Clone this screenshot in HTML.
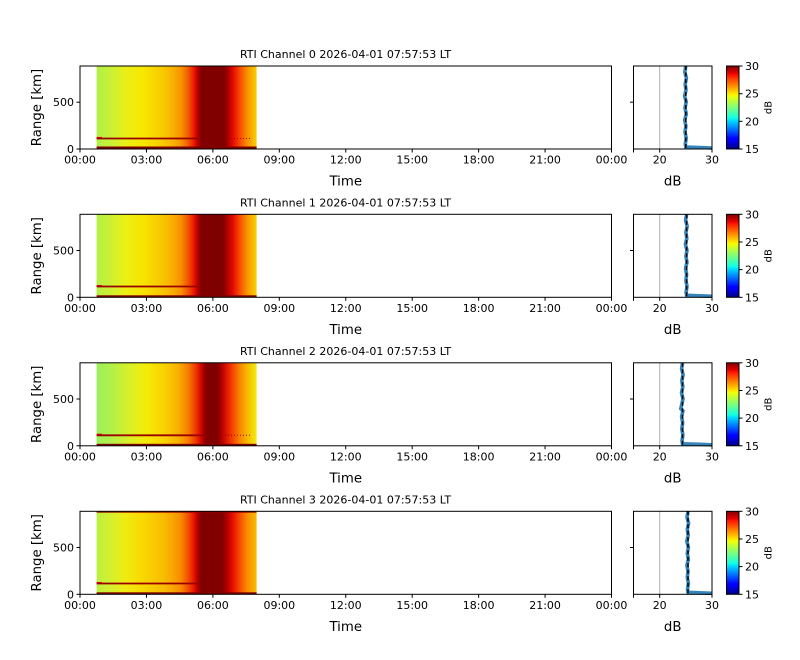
<!DOCTYPE html>
<html><head><meta charset="utf-8"><style>
html,body{margin:0;padding:0;background:#fff;}
svg{display:block;font-family:"DejaVu Sans","Liberation Sans",sans-serif;}
</style></head><body>
<svg width="800" height="660" viewBox="0 0 800 660" xmlns="http://www.w3.org/2000/svg">
<defs>
<linearGradient id="jet" x1="0" y1="1" x2="0" y2="0">
<stop offset="0" stop-color="#000080"/><stop offset="0.11" stop-color="#0000ff"/><stop offset="0.125" stop-color="#0000ff"/>
<stop offset="0.34" stop-color="#00dbff"/><stop offset="0.375" stop-color="#14ffe3"/><stop offset="0.64" stop-color="#f0ff08"/>
<stop offset="0.66" stop-color="#ffed00"/><stop offset="0.89" stop-color="#ff1300"/><stop offset="0.91" stop-color="#e80000"/>
<stop offset="1" stop-color="#800000"/>
</linearGradient>
<linearGradient id="h0" x1="0" y1="0" x2="1" y2="0">
<stop offset="0" stop-color="#b0f048"/><stop offset="0.084" stop-color="#c8f038"/><stop offset="0.18" stop-color="#e8f018"/>
<stop offset="0.29" stop-color="#f8e800"/><stop offset="0.42" stop-color="#f8c800"/><stop offset="0.48" stop-color="#f8b000"/>
<stop offset="0.53" stop-color="#f89000"/><stop offset="0.57" stop-color="#f06000"/><stop offset="0.60" stop-color="#f02800"/>
<stop offset="0.625" stop-color="#d00000"/><stop offset="0.645" stop-color="#900000"/><stop offset="0.66" stop-color="#800000"/>
<stop offset="0.80" stop-color="#800000"/><stop offset="0.82" stop-color="#a80000"/><stop offset="0.85" stop-color="#e00800"/>
<stop offset="0.89" stop-color="#f84000"/><stop offset="0.94" stop-color="#f89000"/><stop offset="1" stop-color="#f8d000"/>
</linearGradient>
<linearGradient id="h1" x1="0" y1="0" x2="1" y2="0">
<stop offset="0" stop-color="#b4f044"/><stop offset="0.084" stop-color="#ccf034"/><stop offset="0.18" stop-color="#ecf014"/>
<stop offset="0.29" stop-color="#f8e400"/><stop offset="0.42" stop-color="#f8c400"/><stop offset="0.48" stop-color="#f8ac00"/>
<stop offset="0.53" stop-color="#f88c00"/><stop offset="0.57" stop-color="#f05800"/><stop offset="0.60" stop-color="#f02400"/>
<stop offset="0.625" stop-color="#cc0000"/><stop offset="0.645" stop-color="#8c0000"/><stop offset="0.66" stop-color="#800000"/>
<stop offset="0.79" stop-color="#800000"/><stop offset="0.815" stop-color="#ac0000"/><stop offset="0.85" stop-color="#e00800"/>
<stop offset="0.89" stop-color="#f84400"/><stop offset="0.94" stop-color="#f89400"/><stop offset="1" stop-color="#f8d000"/>
</linearGradient>
<linearGradient id="h2" x1="0" y1="0" x2="1" y2="0">
<stop offset="0" stop-color="#9cf05c"/><stop offset="0.10" stop-color="#b4f048"/><stop offset="0.20" stop-color="#d8f028"/>
<stop offset="0.31" stop-color="#f4ec08"/><stop offset="0.43" stop-color="#f8d000"/><stop offset="0.51" stop-color="#f8b000"/>
<stop offset="0.57" stop-color="#f88000"/><stop offset="0.615" stop-color="#f04000"/><stop offset="0.65" stop-color="#d80800"/>
<stop offset="0.675" stop-color="#980000"/><stop offset="0.69" stop-color="#800000"/><stop offset="0.755" stop-color="#800000"/>
<stop offset="0.785" stop-color="#b80000"/><stop offset="0.83" stop-color="#f02800"/><stop offset="0.89" stop-color="#f88000"/>
<stop offset="0.95" stop-color="#f8c000"/><stop offset="1" stop-color="#f0ec10"/>
</linearGradient>
<linearGradient id="h3" x1="0" y1="0" x2="1" y2="0">
<stop offset="0" stop-color="#bcf040"/><stop offset="0.084" stop-color="#d4f030"/><stop offset="0.18" stop-color="#f0ec10"/>
<stop offset="0.29" stop-color="#f8d800"/><stop offset="0.42" stop-color="#f8bc00"/><stop offset="0.48" stop-color="#f8a400"/>
<stop offset="0.53" stop-color="#f88800"/><stop offset="0.57" stop-color="#f05400"/><stop offset="0.60" stop-color="#f02000"/>
<stop offset="0.625" stop-color="#c80000"/><stop offset="0.645" stop-color="#8c0000"/><stop offset="0.66" stop-color="#800000"/>
<stop offset="0.785" stop-color="#800000"/><stop offset="0.81" stop-color="#a80000"/><stop offset="0.845" stop-color="#e00800"/>
<stop offset="0.89" stop-color="#f84400"/><stop offset="0.94" stop-color="#f88c00"/><stop offset="1" stop-color="#f8bc00"/>
</linearGradient>
</defs>

<!-- ============ PANEL 0 ============ -->
<g transform="translate(0,66)">
<text x="345.5" y="-8" font-size="11" text-anchor="middle">RTI Channel 0 2026-04-01 07:57:53 LT</text>
<rect x="96.6" y="0" width="160" height="83" fill="url(#h0)"/>
<line x1="96.6" y1="72.5" x2="200" y2="72.5" stroke="#9a0000" stroke-width="1.8"/>
<line x1="96.6" y1="71.4" x2="102" y2="71.4" stroke="#e00000" stroke-width="1"/>
<line x1="225" y1="72.5" x2="250" y2="72.5" stroke="#a00000" stroke-width="1" stroke-dasharray="1,2"/>
<rect x="96.6" y="80.5" width="160" height="2.5" fill="#800000"/>
<rect x="80" y="0" width="531.5" height="83" fill="none" stroke="#000" stroke-width="1"/>
<g stroke="#000" stroke-width="1">
<line x1="80" y1="83" x2="80" y2="86.5"/><line x1="146.44" y1="83" x2="146.44" y2="86.5"/><line x1="212.88" y1="83" x2="212.88" y2="86.5"/><line x1="279.31" y1="83" x2="279.31" y2="86.5"/><line x1="345.75" y1="83" x2="345.75" y2="86.5"/><line x1="412.19" y1="83" x2="412.19" y2="86.5"/><line x1="478.63" y1="83" x2="478.63" y2="86.5"/><line x1="545.06" y1="83" x2="545.06" y2="86.5"/><line x1="611.5" y1="83" x2="611.5" y2="86.5"/>
<line x1="76.5" y1="83" x2="80" y2="83"/><line x1="76.5" y1="36.2" x2="80" y2="36.2"/>
</g>
<g font-size="11" text-anchor="middle">
<text x="80" y="97.5">00:00</text><text x="146.44" y="97.5">03:00</text><text x="212.88" y="97.5">06:00</text><text x="279.31" y="97.5">09:00</text><text x="345.75" y="97.5">12:00</text><text x="412.19" y="97.5">15:00</text><text x="478.63" y="97.5">18:00</text><text x="545.06" y="97.5">21:00</text><text x="611.5" y="97.5">00:00</text>
</g>
<g font-size="11" text-anchor="end"><text x="74" y="87">0</text><text x="74" y="40.2">500</text></g>
<text x="345.75" y="119.5" font-size="13.3" text-anchor="middle">Time</text>
<text transform="translate(41,41.5) rotate(-90)" font-size="13.3" text-anchor="middle">Range [km]</text>
<line x1="659.7" y1="0" x2="659.7" y2="83" stroke="#b0b0b0" stroke-width="1"/>
<polyline points="685.8,0 684.8,6 686.4,12 685.2,18 686,24 684.6,30 686.2,36 685,42 686.3,48 684.7,54 685.9,60 685,66 686.2,72 685.3,78 685.8,81 700,81.5 712,82" fill="none" stroke="#1f77b4" stroke-width="3.6" opacity="0.9"/>
<line x1="685.8" y1="0" x2="685.8" y2="83" stroke="#000" stroke-width="1.5" stroke-dasharray="4,2.5"/>
<rect x="633.5" y="0" width="78.5" height="83" fill="none" stroke="#000" stroke-width="1"/>
<g stroke="#000" stroke-width="1"><line x1="630" y1="36.2" x2="633.5" y2="36.2"/><line x1="659.7" y1="83" x2="659.7" y2="86.5"/><line x1="712" y1="83" x2="712" y2="86.5"/><line x1="633.5" y1="83" x2="633.5" y2="86.5"/></g>
<g font-size="11" text-anchor="middle"><text x="659.7" y="97.5">20</text><text x="712" y="97.5">30</text></g>
<text x="672.7" y="119.5" font-size="13.3" text-anchor="middle">dB</text>
<rect x="726.5" y="0" width="12.5" height="83" fill="url(#jet)" stroke="#000" stroke-width="1"/>
<g stroke="#000" stroke-width="1"><line x1="739" y1="0" x2="742.5" y2="0"/><line x1="739" y1="27.7" x2="742.5" y2="27.7"/><line x1="739" y1="55.3" x2="742.5" y2="55.3"/><line x1="739" y1="83" x2="742.5" y2="83"/></g>
<g font-size="11"><text x="745" y="4">30</text><text x="745" y="31.7">25</text><text x="745" y="59.3">20</text><text x="745" y="87">15</text></g>
<text transform="translate(771.5,41.5) rotate(-90)" font-size="10" text-anchor="middle">dB</text>
</g>

<!-- ============ PANEL 1 ============ -->
<g transform="translate(0,214.3)">
<text x="345.5" y="-8" font-size="11" text-anchor="middle">RTI Channel 1 2026-04-01 07:57:53 LT</text>
<rect x="96.6" y="0" width="160" height="83" fill="url(#h1)"/>
<line x1="96.6" y1="72.2" x2="200" y2="72.2" stroke="#9a0000" stroke-width="1.8"/>
<line x1="96.6" y1="71.2" x2="102" y2="71.2" stroke="#e00000" stroke-width="1"/>
<rect x="96.6" y="81" width="160" height="2" fill="#800000"/>
<rect x="80" y="0" width="531.5" height="83" fill="none" stroke="#000" stroke-width="1"/>
<g stroke="#000" stroke-width="1">
<line x1="80" y1="83" x2="80" y2="86.5"/><line x1="146.44" y1="83" x2="146.44" y2="86.5"/><line x1="212.88" y1="83" x2="212.88" y2="86.5"/><line x1="279.31" y1="83" x2="279.31" y2="86.5"/><line x1="345.75" y1="83" x2="345.75" y2="86.5"/><line x1="412.19" y1="83" x2="412.19" y2="86.5"/><line x1="478.63" y1="83" x2="478.63" y2="86.5"/><line x1="545.06" y1="83" x2="545.06" y2="86.5"/><line x1="611.5" y1="83" x2="611.5" y2="86.5"/>
<line x1="76.5" y1="83" x2="80" y2="83"/><line x1="76.5" y1="36.2" x2="80" y2="36.2"/>
</g>
<g font-size="11" text-anchor="middle">
<text x="80" y="97.5">00:00</text><text x="146.44" y="97.5">03:00</text><text x="212.88" y="97.5">06:00</text><text x="279.31" y="97.5">09:00</text><text x="345.75" y="97.5">12:00</text><text x="412.19" y="97.5">15:00</text><text x="478.63" y="97.5">18:00</text><text x="545.06" y="97.5">21:00</text><text x="611.5" y="97.5">00:00</text>
</g>
<g font-size="11" text-anchor="end"><text x="74" y="87">0</text><text x="74" y="40.2">500</text></g>
<text x="345.75" y="119.5" font-size="13.3" text-anchor="middle">Time</text>
<text transform="translate(41,41.5) rotate(-90)" font-size="13.3" text-anchor="middle">Range [km]</text>
<line x1="659.7" y1="0" x2="659.7" y2="83" stroke="#b0b0b0" stroke-width="1"/>
<polyline points="686.6,0 685.6,6 687.2,12 685.9,18 686.8,24 685.4,30 687,36 685.9,42 687,48 685.5,54 686.6,60 685.9,66 687,72 686.1,78 686.6,81 700,81.5 712,82" fill="none" stroke="#1f77b4" stroke-width="3.6" opacity="0.9"/>
<line x1="686.6" y1="0" x2="686.6" y2="83" stroke="#000" stroke-width="1.5" stroke-dasharray="4,2.5"/>
<rect x="633.5" y="0" width="78.5" height="83" fill="none" stroke="#000" stroke-width="1"/>
<g stroke="#000" stroke-width="1"><line x1="630" y1="36.2" x2="633.5" y2="36.2"/><line x1="659.7" y1="83" x2="659.7" y2="86.5"/><line x1="712" y1="83" x2="712" y2="86.5"/><line x1="633.5" y1="83" x2="633.5" y2="86.5"/></g>
<g font-size="11" text-anchor="middle"><text x="659.7" y="97.5">20</text><text x="712" y="97.5">30</text></g>
<text x="672.7" y="119.5" font-size="13.3" text-anchor="middle">dB</text>
<rect x="726.5" y="0" width="12.5" height="83" fill="url(#jet)" stroke="#000" stroke-width="1"/>
<g stroke="#000" stroke-width="1"><line x1="739" y1="0" x2="742.5" y2="0"/><line x1="739" y1="27.7" x2="742.5" y2="27.7"/><line x1="739" y1="55.3" x2="742.5" y2="55.3"/><line x1="739" y1="83" x2="742.5" y2="83"/></g>
<g font-size="11"><text x="745" y="4">30</text><text x="745" y="31.7">25</text><text x="745" y="59.3">20</text><text x="745" y="87">15</text></g>
<text transform="translate(771.5,41.5) rotate(-90)" font-size="10" text-anchor="middle">dB</text>
</g>

<!-- ============ PANEL 2 ============ -->
<g transform="translate(0,362.8)">
<text x="345.5" y="-8" font-size="11" text-anchor="middle">RTI Channel 2 2026-04-01 07:57:53 LT</text>
<rect x="96.6" y="0" width="160" height="83" fill="url(#h2)"/>
<line x1="96.6" y1="72.5" x2="205" y2="72.5" stroke="#9a0000" stroke-width="1.8"/>
<line x1="96.6" y1="71.4" x2="102" y2="71.4" stroke="#e00000" stroke-width="1"/>
<line x1="222" y1="72.5" x2="250" y2="72.5" stroke="#a00000" stroke-width="1" stroke-dasharray="1,2"/>
<rect x="96.6" y="81" width="160" height="2" fill="#800000"/>
<rect x="80" y="0" width="531.5" height="83" fill="none" stroke="#000" stroke-width="1"/>
<g stroke="#000" stroke-width="1">
<line x1="80" y1="83" x2="80" y2="86.5"/><line x1="146.44" y1="83" x2="146.44" y2="86.5"/><line x1="212.88" y1="83" x2="212.88" y2="86.5"/><line x1="279.31" y1="83" x2="279.31" y2="86.5"/><line x1="345.75" y1="83" x2="345.75" y2="86.5"/><line x1="412.19" y1="83" x2="412.19" y2="86.5"/><line x1="478.63" y1="83" x2="478.63" y2="86.5"/><line x1="545.06" y1="83" x2="545.06" y2="86.5"/><line x1="611.5" y1="83" x2="611.5" y2="86.5"/>
<line x1="76.5" y1="83" x2="80" y2="83"/><line x1="76.5" y1="36.2" x2="80" y2="36.2"/>
</g>
<g font-size="11" text-anchor="middle">
<text x="80" y="97.5">00:00</text><text x="146.44" y="97.5">03:00</text><text x="212.88" y="97.5">06:00</text><text x="279.31" y="97.5">09:00</text><text x="345.75" y="97.5">12:00</text><text x="412.19" y="97.5">15:00</text><text x="478.63" y="97.5">18:00</text><text x="545.06" y="97.5">21:00</text><text x="611.5" y="97.5">00:00</text>
</g>
<g font-size="11" text-anchor="end"><text x="74" y="87">0</text><text x="74" y="40.2">500</text></g>
<text x="345.75" y="119.5" font-size="13.3" text-anchor="middle">Time</text>
<text transform="translate(41,41.5) rotate(-90)" font-size="13.3" text-anchor="middle">Range [km]</text>
<line x1="659.7" y1="0" x2="659.7" y2="83" stroke="#b0b0b0" stroke-width="1"/>
<polyline points="682.5,0 681.6,6 683.1,12 681.8,18 682.8,24 681.5,30 683,36 680.8,46 682.9,48 681.6,54 682.7,60 681.8,66 682.9,72 682,78 682.5,81 700,81.5 712,82" fill="none" stroke="#1f77b4" stroke-width="3.6" opacity="0.9"/>
<line x1="682.5" y1="0" x2="682.5" y2="83" stroke="#000" stroke-width="1.5" stroke-dasharray="4,2.5"/>
<rect x="633.5" y="0" width="78.5" height="83" fill="none" stroke="#000" stroke-width="1"/>
<g stroke="#000" stroke-width="1"><line x1="630" y1="36.2" x2="633.5" y2="36.2"/><line x1="659.7" y1="83" x2="659.7" y2="86.5"/><line x1="712" y1="83" x2="712" y2="86.5"/><line x1="633.5" y1="83" x2="633.5" y2="86.5"/></g>
<g font-size="11" text-anchor="middle"><text x="659.7" y="97.5">20</text><text x="712" y="97.5">30</text></g>
<text x="672.7" y="119.5" font-size="13.3" text-anchor="middle">dB</text>
<rect x="726.5" y="0" width="12.5" height="83" fill="url(#jet)" stroke="#000" stroke-width="1"/>
<g stroke="#000" stroke-width="1"><line x1="739" y1="0" x2="742.5" y2="0"/><line x1="739" y1="27.7" x2="742.5" y2="27.7"/><line x1="739" y1="55.3" x2="742.5" y2="55.3"/><line x1="739" y1="83" x2="742.5" y2="83"/></g>
<g font-size="11"><text x="745" y="4">30</text><text x="745" y="31.7">25</text><text x="745" y="59.3">20</text><text x="745" y="87">15</text></g>
<text transform="translate(771.5,41.5) rotate(-90)" font-size="10" text-anchor="middle">dB</text>
</g>

<!-- ============ PANEL 3 ============ -->
<g transform="translate(0,511.3)">
<text x="345.5" y="-8" font-size="11" text-anchor="middle">RTI Channel 3 2026-04-01 07:57:53 LT</text>
<rect x="96.6" y="0" width="160" height="83" fill="url(#h3)"/>
<rect x="96.6" y="0" width="160" height="1.5" fill="#900000" opacity="0.8"/>
<line x1="96.6" y1="72.2" x2="200" y2="72.2" stroke="#9a0000" stroke-width="1.8"/>
<line x1="96.6" y1="71.2" x2="102" y2="71.2" stroke="#e00000" stroke-width="1"/>
<rect x="96.6" y="81" width="160" height="2" fill="#800000"/>
<rect x="80" y="0" width="531.5" height="83" fill="none" stroke="#000" stroke-width="1"/>
<g stroke="#000" stroke-width="1">
<line x1="80" y1="83" x2="80" y2="86.5"/><line x1="146.44" y1="83" x2="146.44" y2="86.5"/><line x1="212.88" y1="83" x2="212.88" y2="86.5"/><line x1="279.31" y1="83" x2="279.31" y2="86.5"/><line x1="345.75" y1="83" x2="345.75" y2="86.5"/><line x1="412.19" y1="83" x2="412.19" y2="86.5"/><line x1="478.63" y1="83" x2="478.63" y2="86.5"/><line x1="545.06" y1="83" x2="545.06" y2="86.5"/><line x1="611.5" y1="83" x2="611.5" y2="86.5"/>
<line x1="76.5" y1="83" x2="80" y2="83"/><line x1="76.5" y1="36.2" x2="80" y2="36.2"/>
</g>
<g font-size="11" text-anchor="middle">
<text x="80" y="97.5">00:00</text><text x="146.44" y="97.5">03:00</text><text x="212.88" y="97.5">06:00</text><text x="279.31" y="97.5">09:00</text><text x="345.75" y="97.5">12:00</text><text x="412.19" y="97.5">15:00</text><text x="478.63" y="97.5">18:00</text><text x="545.06" y="97.5">21:00</text><text x="611.5" y="97.5">00:00</text>
</g>
<g font-size="11" text-anchor="end"><text x="74" y="87">0</text><text x="74" y="40.2">500</text></g>
<text x="345.75" y="119.5" font-size="13.3" text-anchor="middle">Time</text>
<text transform="translate(41,41.5) rotate(-90)" font-size="13.3" text-anchor="middle">Range [km]</text>
<line x1="659.7" y1="0" x2="659.7" y2="83" stroke="#b0b0b0" stroke-width="1"/>
<polyline points="688,0 687,6 688.6,12 687.3,18 688.2,24 686.8,30 688.4,36 687.3,42 688.4,48 686.9,54 688,60 687.3,66 688.4,72 687.5,78 688,81 700,81.5 712,82" fill="none" stroke="#1f77b4" stroke-width="3.6" opacity="0.9"/>
<line x1="688" y1="0" x2="688" y2="83" stroke="#000" stroke-width="1.5" stroke-dasharray="4,2.5"/>
<rect x="633.5" y="0" width="78.5" height="83" fill="none" stroke="#000" stroke-width="1"/>
<g stroke="#000" stroke-width="1"><line x1="630" y1="36.2" x2="633.5" y2="36.2"/><line x1="659.7" y1="83" x2="659.7" y2="86.5"/><line x1="712" y1="83" x2="712" y2="86.5"/><line x1="633.5" y1="83" x2="633.5" y2="86.5"/></g>
<g font-size="11" text-anchor="middle"><text x="659.7" y="97.5">20</text><text x="712" y="97.5">30</text></g>
<text x="672.7" y="119.5" font-size="13.3" text-anchor="middle">dB</text>
<rect x="726.5" y="0" width="12.5" height="83" fill="url(#jet)" stroke="#000" stroke-width="1"/>
<g stroke="#000" stroke-width="1"><line x1="739" y1="0" x2="742.5" y2="0"/><line x1="739" y1="27.7" x2="742.5" y2="27.7"/><line x1="739" y1="55.3" x2="742.5" y2="55.3"/><line x1="739" y1="83" x2="742.5" y2="83"/></g>
<g font-size="11"><text x="745" y="4">30</text><text x="745" y="31.7">25</text><text x="745" y="59.3">20</text><text x="745" y="87">15</text></g>
<text transform="translate(771.5,41.5) rotate(-90)" font-size="10" text-anchor="middle">dB</text>
</g>
</svg>
</body></html>
